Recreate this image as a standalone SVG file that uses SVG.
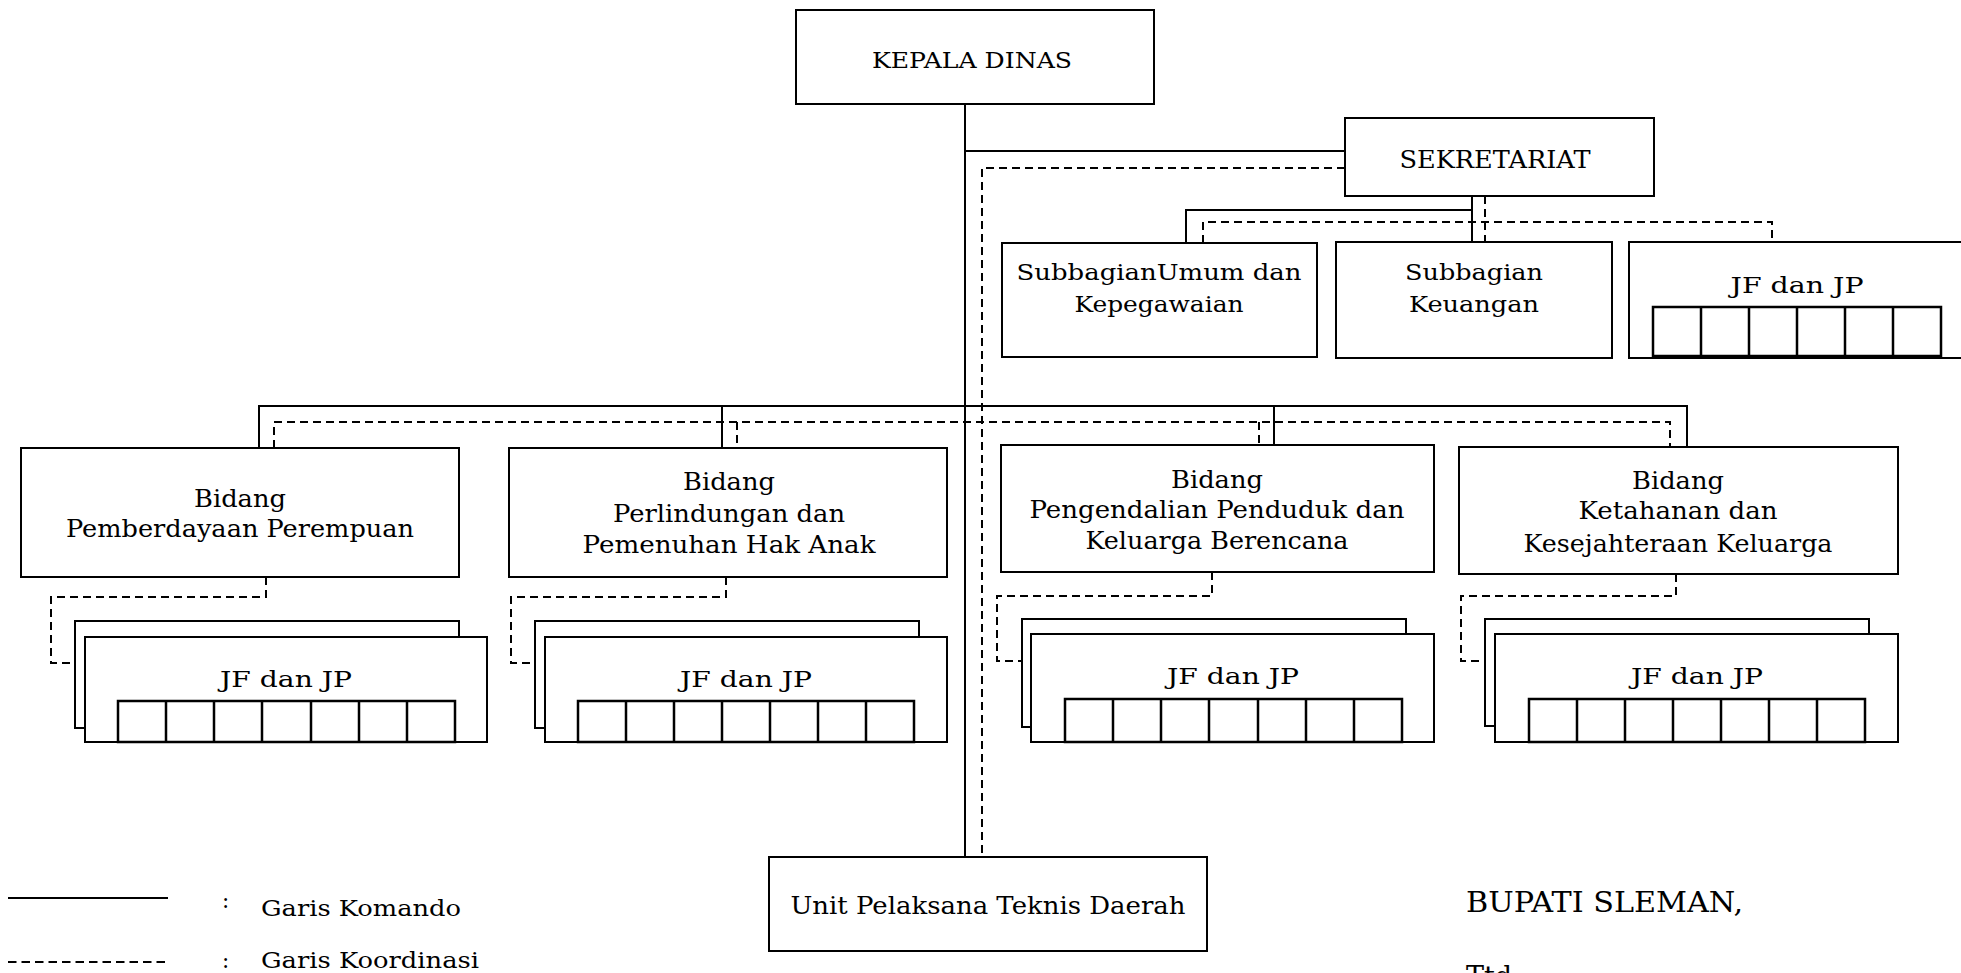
<svg xmlns="http://www.w3.org/2000/svg" width="1961" height="973" viewBox="0 0 1961 973">
<defs>
<style>
.box{fill:#fff;stroke:#000;stroke-width:2}
.ln{fill:none;stroke:#000;stroke-width:2}
.ds{fill:none;stroke:#000;stroke-width:2;stroke-dasharray:8 5}
.cell{fill:none;stroke:#000;stroke-width:2.5}
.t{font-family:"DejaVu Serif","Liberation Serif",serif;font-size:24px;fill:#000;text-anchor:middle}
.s22{font-size:22px}
.s23{font-size:23px}
.s25{font-size:25px}
.l{font-family:"DejaVu Serif","Liberation Serif",serif;font-size:21.5px;fill:#000}
.sig{font-size:27px}
</style>
</defs>
<rect width="1961" height="973" fill="#fff"/>

<g id="connectors">
<path class="ln" d="M965 104 V857"/>
<path class="ln" d="M965 151 H1345"/>
<path class="ln" d="M1472 196 V242 M1472 210 H1186 V243"/>
<path class="ln" d="M259 448 V406 H1687 V447 M722 406 V448 M1274 406 V445"/>
<path class="ds" d="M1345 168 H982 V857"/>
<path class="ds" d="M1485 196 V242 M1203 243 V222 H1772 V242"/>
<path class="ds" d="M274 448 V422 H1670 V447 M737 422 V448 M1259 422 V445"/>
<path class="ds" d="M266 577 V597 H51 V663 H75"/>
<path class="ds" d="M726 577 V597 H511 V663 H535"/>
<path class="ds" d="M1212 572 V596 H997 V661 H1022"/>
<path class="ds" d="M1676 574 V596 H1461 V661 H1485"/>
</g>

<g id="kepala-dinas">
<rect class="box" x="796" y="10" width="358" height="94"/>
<text class="t s22" x="972" y="68" textLength="200" lengthAdjust="spacingAndGlyphs">KEPALA DINAS</text>
</g>

<g id="sekretariat">
<rect class="box" x="1345" y="118" width="309" height="78"/>
<text class="t" x="1495" y="168" textLength="191" lengthAdjust="spacingAndGlyphs">SEKRETARIAT</text>
</g>

<g id="subbag-umum">
<rect class="box" x="1002" y="243" width="315" height="114"/>
<text class="t s23" x="1159" y="280" textLength="285" lengthAdjust="spacingAndGlyphs">SubbagianUmum dan</text>
<text class="t s23" x="1159" y="312" textLength="169" lengthAdjust="spacingAndGlyphs">Kepegawaian</text>
</g>

<g id="subbag-keuangan">
<rect class="box" x="1336" y="242" width="276" height="116"/>
<text class="t s23" x="1474" y="280" textLength="138" lengthAdjust="spacingAndGlyphs">Subbagian</text>
<text class="t s23" x="1474" y="312" textLength="130" lengthAdjust="spacingAndGlyphs">Keuangan</text>
</g>

<g id="jf-sekretariat">
<rect class="box" x="1629" y="242" width="400" height="116"/>
<text class="t s23" x="1797" y="293" textLength="133" lengthAdjust="spacingAndGlyphs">JF dan JP</text>
<path class="cell" d="M1653 307 H1941 V356 H1653 Z M1701 307 V356 M1749 307 V356 M1797 307 V356 M1845 307 V356 M1893 307 V356"/>
<path class="ln" stroke-width="3.5" d="M1653 356 H1941"/>
</g>

<g id="bidang-pp">
<rect class="box" x="21" y="448" width="438" height="129"/>
<text class="t" x="240" y="507" textLength="92" lengthAdjust="spacingAndGlyphs">Bidang</text>
<text class="t" x="240" y="537" textLength="348" lengthAdjust="spacingAndGlyphs">Pemberdayaan Perempuan</text>
</g>
<g id="jf-pp">
<rect class="box" x="75" y="621" width="384" height="107"/>
<rect class="box" x="85" y="637" width="402" height="105"/>
<text class="t s23" x="286" y="687" textLength="132" lengthAdjust="spacingAndGlyphs">JF dan JP</text>
<path class="cell" d="M118 701 H455 V742 H118 Z M166 701 V742 M214 701 V742 M262 701 V742 M311 701 V742 M359 701 V742 M407 701 V742"/>
</g>

<g id="bidang-ppha">
<rect class="box" x="509" y="448" width="438" height="129"/>
<text class="t" x="729" y="490" textLength="92" lengthAdjust="spacingAndGlyphs">Bidang</text>
<text class="t" x="729" y="522" textLength="232" lengthAdjust="spacingAndGlyphs">Perlindungan dan</text>
<text class="t" x="729" y="553" textLength="293" lengthAdjust="spacingAndGlyphs">Pemenuhan Hak Anak</text>
</g>
<g id="jf-ppha">
<rect class="box" x="535" y="621" width="384" height="107"/>
<rect class="box" x="545" y="637" width="402" height="105"/>
<text class="t s23" x="746" y="687" textLength="132" lengthAdjust="spacingAndGlyphs">JF dan JP</text>
<path class="cell" d="M578 701 H914 V742 H578 Z M626 701 V742 M674 701 V742 M722 701 V742 M770 701 V742 M818 701 V742 M866 701 V742"/>
</g>

<g id="bidang-ppkb">
<rect class="box" x="1001" y="445" width="433" height="127"/>
<text class="t" x="1217" y="488" textLength="92" lengthAdjust="spacingAndGlyphs">Bidang</text>
<text class="t" x="1217" y="518" textLength="375" lengthAdjust="spacingAndGlyphs">Pengendalian Penduduk dan</text>
<text class="t" x="1217" y="549" textLength="263" lengthAdjust="spacingAndGlyphs">Keluarga Berencana</text>
</g>
<g id="jf-ppkb">
<rect class="box" x="1022" y="619" width="384" height="108"/>
<rect class="box" x="1031" y="634" width="403" height="108"/>
<text class="t s23" x="1233" y="684" textLength="132" lengthAdjust="spacingAndGlyphs">JF dan JP</text>
<path class="cell" d="M1065 699 H1402 V742 H1065 Z M1113 699 V742 M1161 699 V742 M1209 699 V742 M1258 699 V742 M1306 699 V742 M1354 699 V742"/>
</g>

<g id="bidang-kkk">
<rect class="box" x="1459" y="447" width="439" height="127"/>
<text class="t" x="1678" y="489" textLength="92" lengthAdjust="spacingAndGlyphs">Bidang</text>
<text class="t" x="1678" y="519" textLength="199" lengthAdjust="spacingAndGlyphs">Ketahanan dan</text>
<text class="t" x="1678" y="552" textLength="309" lengthAdjust="spacingAndGlyphs">Kesejahteraan Keluarga</text>
</g>
<g id="jf-kkk">
<rect class="box" x="1485" y="619" width="384" height="107"/>
<rect class="box" x="1495" y="634" width="403" height="108"/>
<text class="t s23" x="1697" y="684" textLength="132" lengthAdjust="spacingAndGlyphs">JF dan JP</text>
<path class="cell" d="M1529 699 H1865 V742 H1529 Z M1577 699 V742 M1625 699 V742 M1673 699 V742 M1721 699 V742 M1769 699 V742 M1817 699 V742"/>
</g>

<g id="uptd">
<rect class="box" x="769" y="857" width="438" height="94"/>
<text class="t s25" x="988" y="914" textLength="395" lengthAdjust="spacingAndGlyphs">Unit Pelaksana Teknis Daerah</text>
</g>

<g id="legend">
<path class="ln" d="M8 898 H168"/>
<path class="ds" d="M8 962 H168" style="stroke-dasharray:8.5 5"/>
<text class="l" x="222" y="908">:</text>
<text class="l" x="222" y="968">:</text>
<text class="l" x="261" y="916" textLength="200" lengthAdjust="spacingAndGlyphs">Garis Komando</text>
<text class="l" x="261" y="968" textLength="218" lengthAdjust="spacingAndGlyphs">Garis Koordinasi</text>
</g>

<g id="signature">
<text class="l sig" x="1466" y="912" textLength="277" lengthAdjust="spacingAndGlyphs">BUPATI SLEMAN,</text>
<text class="l sig" x="1466" y="986">Ttd</text>
</g>
</svg>
